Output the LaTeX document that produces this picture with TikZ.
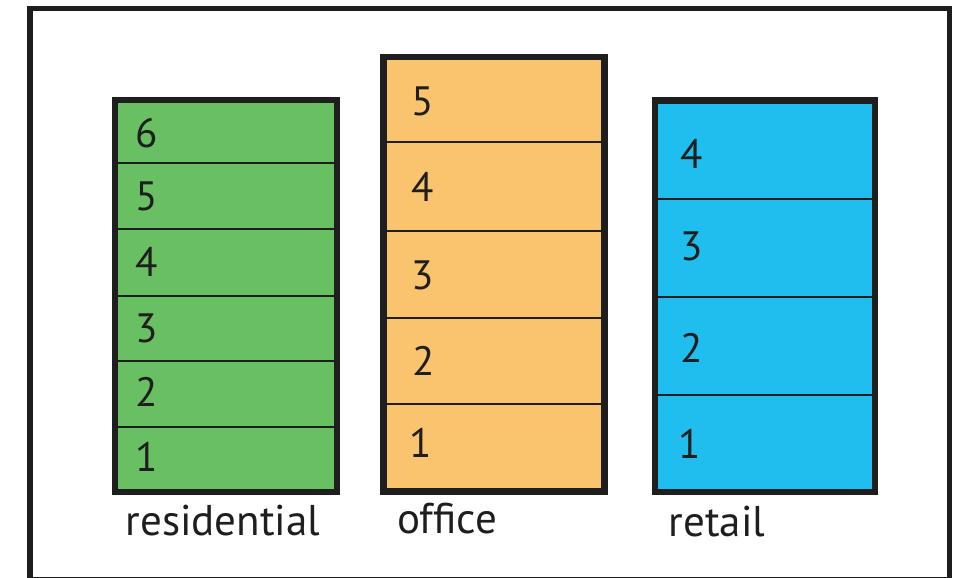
\documentclass[tikz,border=0pt]{standalone}
\usepackage{fontspec}
\setmainfont{PT Sans}
\definecolor{resgreen}{RGB}{104,192,98}
\definecolor{offorange}{RGB}{250,195,110}
\definecolor{retblue}{RGB}{32,190,238}
\definecolor{inkc}{RGB}{30,30,30}
\tikzset{
  num/.style={font=\fontsize{20.5}{22}\selectfont, text=inkc, inner sep=0pt},
  lbl/.style={font=\fontsize{21.5}{24}\selectfont, text=inkc, inner sep=0pt, anchor=base},
  shell/.style={draw=inkc, line width=3.2pt},
  divider/.style={draw=inkc, line width=1.3pt},
}
\begin{document}
\begin{tikzpicture}[x=0.5pt,y=-0.5pt]
\useasboundingbox (0,0) rectangle (960,578);
\fill[white] (0,0) rectangle (960,578);
\begin{scope}
\clip (0,0) rectangle (960,578);
\draw[draw=inkc, line width=2.8pt] (30,8.5) rectangle (949.5,580);
\end{scope}
% residential
\fill[resgreen] (115,100) rectangle (337,492);
\foreach \yy in {163,229,296,361,427} \draw[divider] (115,\yy) -- (337,\yy);
\draw[shell] (115,100) rectangle (337,492);
\node[num] (r6) at (147,133) {6};
\node[num] (r5) at (147,196) {5};
\node[num] (r4) at (147,262) {4};
\node[num] (r3) at (147,328) {3};
\node[num] (r2) at (147,392) {2};
\node[num] (r1) at (147,457) {1};
\node[lbl] (rl) at (223,535) {residential};
% office
\fill[offorange] (383.5,57) rectangle (604.5,491.5);
\foreach \yy in {142,231,318,404} \draw[divider] (383.5,\yy) -- (604.5,\yy);
\draw[shell] (383.5,57) rectangle (604.5,491.5);
\node[num] (o5) at (423,101) {5};
\node[num] (o4) at (423,187) {4};
\node[num] (o3) at (423,275) {3};
\node[num] (o2) at (424,361) {2};
\node[num] (o1) at (421,443) {1};
\node[lbl] (ol) at (447,533) {office};
% retail
\fill[retblue] (655,100.5) rectangle (875,492);
\foreach \yy in {199,297,395} \draw[divider] (655,\yy) -- (875,\yy);
\draw[shell] (655,100.5) rectangle (875,492);
\node[num] (t4) at (692,154) {4};
\node[num] (t3) at (692,246) {3};
\node[num] (t2) at (692,348) {2};
\node[num] (t1) at (690,444) {1};
\node[lbl] (tl) at (717,536) {retail};
\end{tikzpicture}
\end{document}
